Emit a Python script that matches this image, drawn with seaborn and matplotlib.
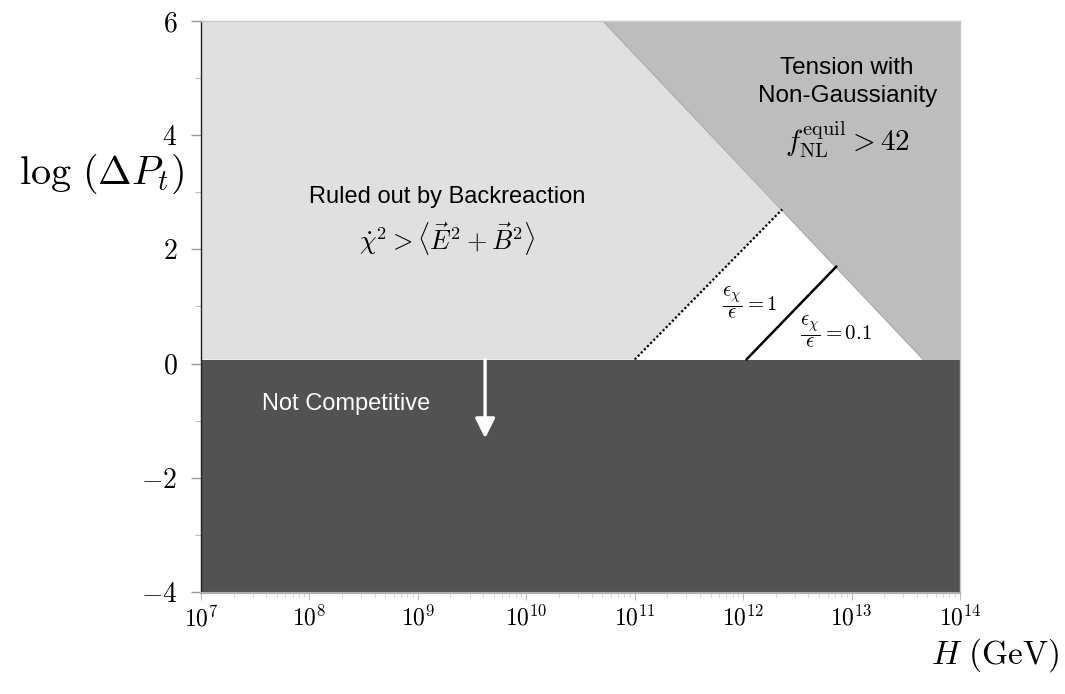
import numpy as np
import matplotlib
matplotlib.use("Agg")
import matplotlib.pyplot as plt
import seaborn as sns
import pandas as pd
from matplotlib.ticker import MultipleLocator, LogLocator

# ---- data (log10 H in GeV, log10 Delta P_t) ----
x_range = [7.0, 14.0]
y_range = [-4.0, 6.0]
floor_logP = 0.07                     # top of "Not Competitive" band
ng_logH = [10.707, 13.66]             # non-Gaussianity boundary
ng_logP = [6.0, 0.07]
eps1_logH = [11.0, 12.36]             # eps_chi/eps = 1 (dotted)
eps1_logP = [0.07, 2.70]
eps01_logH = [12.03, 12.86]           # eps_chi/eps = 0.1 (solid)
eps01_logP = [0.07, 1.70]
arrow_logH = 9.62
arrow_logP = [0.07, -1.31]
x_ticks = [7, 8, 9, 10, 11, 12, 13, 14]
y_ticks = [-4, -2, 0, 2, 4, 6]

sns.set_style("white")
plt.rcParams['font.family'] = ['Liberation Sans', 'DejaVu Sans']
plt.rcParams['mathtext.fontset'] = 'cm'
plt.rcParams['axes.formatter.use_mathtext'] = True
plt.rcParams['text.color'] = 'black'
plt.rcParams['axes.labelcolor'] = 'black'
plt.rcParams['xtick.labelcolor'] = 'black'
plt.rcParams['ytick.labelcolor'] = 'black'

C_LIGHT = '#e0e0e0'
C_MID = '#bdbdbd'
C_DARK = '#525252'

fig = plt.figure(figsize=(10.65, 6.94), dpi=100)
ax = fig.add_axes([201/1065, 1-593/694, 759/1065, 572/694])
ax.set_facecolor('white')

P = lambda v: np.power(10.0, np.asarray(v, dtype=float))

# medium gray: tension with non-Gaussianity
ng_x = list(ng_logH) + [x_range[1]]
ng_y = list(ng_logP) + [floor_logP]
ax.fill_between(P(ng_x), ng_y, y_range[1], color=C_MID, lw=0, zorder=1)
ax.plot(P(ng_logH), ng_logP, color='#a8a8a8', lw=0.8, zorder=1.5)

# light gray: ruled out by backreaction
lx = [x_range[0], eps1_logH[0], eps1_logH[1], ng_logH[0], x_range[0]]
ly = [floor_logP, eps1_logP[0], eps1_logP[1], ng_logP[0], y_range[1]]
ax.fill(P(lx), ly, color=C_LIGHT, lw=0, zorder=1)

# dark: not competitive
ax.fill_between(P(x_range), y_range[0], floor_logP, color=C_DARK, lw=0, zorder=2)

# lines
df1 = pd.DataFrame({'H': P(eps1_logH), 'logP': eps1_logP})
df2 = pd.DataFrame({'H': P(eps01_logH), 'logP': eps01_logP})
sns.lineplot(data=df1, x='H', y='logP', ax=ax, color='black', lw=1.6,
             linestyle=(0, (1, 1)), zorder=3)
sns.lineplot(data=df2, x='H', y='logP', ax=ax, color='black', lw=1.8, zorder=3)

# arrow
ax.annotate('', xy=(P(arrow_logH), arrow_logP[1]), xytext=(P(arrow_logH), arrow_logP[0]),
            arrowprops=dict(arrowstyle='-|>,head_length=0.6,head_width=0.3',
                            mutation_scale=20, color='white', lw=2.4,
                            shrinkA=0, shrinkB=0), zorder=4)

# texts
ax.text(P(9.27), 2.92, 'Ruled out by Backreaction', ha='center', va='center',
        fontsize=17, color='black', zorder=5)
ax.text(P(9.27), 2.17, r'$\dot{\chi}^2 > \langle \vec{E}^2 + \vec{B}^2\rangle$',
        ha='center', va='center', fontsize=19, zorder=5)
ax.text(P(12.96), 4.93, 'Tension with\nNon-Gaussianity', ha='center', va='center',
        fontsize=17.5, linespacing=1.4, color='black', zorder=5)
ax.text(P(12.96), 3.92, r'$f_{\rm NL}^{\rm equil} > 42$', ha='center', va='center',
        fontsize=21, zorder=5)
ax.text(P(12.06), 1.07, r'$\dfrac{\epsilon_\chi}{\epsilon} = 1$', ha='center',
        va='center', fontsize=15, zorder=5)
ax.text(P(12.86), 0.56, r'$\dfrac{\epsilon_\chi}{\epsilon} = 0.1$', ha='center',
        va='center', fontsize=15, zorder=5)
ax.text(P(7.56), -0.71, 'Not Competitive', ha='left', va='center',
        fontsize=17, color='white', zorder=5)

# axes
ax.set_xscale('log')
ax.set_xlim(P(x_range[0]), P(x_range[1]))
ax.set_ylim(y_range[0] - 0.02, y_range[1])
ax.set_xticks(P(x_ticks))
ax.xaxis.set_minor_locator(LogLocator(base=10, subs=np.arange(2, 10), numticks=50))
ax.set_yticks(y_ticks)
ax.yaxis.set_minor_locator(MultipleLocator(1))
ax.set_yticklabels([r'$%d$' % v for v in y_ticks])
ax.set_xticklabels([r'$10^{%d}$' % v for v in x_ticks])

ax.tick_params(axis='y', which='major', direction='out', length=7, width=1,
               color='#999999', labelcolor='black', labelsize=20, pad=10, left=True)
ax.tick_params(axis='y', which='minor', direction='out', length=4, width=0.8,
               color='#bbbbbb', left=True)
ax.tick_params(axis='x', which='major', direction='out', length=5, width=0.8,
               color='#bbbbbb', labelcolor='black', labelsize=17, pad=4, bottom=True)
ax.tick_params(axis='x', which='minor', direction='out', length=3, width=0.6,
               color='#cccccc', bottom=True)

for s in ['top', 'right']:
    ax.spines[s].set_visible(True)
    ax.spines[s].set_color('#c8c8c8')
    ax.spines[s].set_linewidth(1.0)
ax.spines['left'].set_color('#222222')
ax.spines['left'].set_linewidth(1.0)
ax.spines['bottom'].set_color('#b0b0b0')
ax.spines['bottom'].set_linewidth(1.5)

ax.set_ylabel(r'$\log\,(\Delta P_t)$', fontsize=29, rotation=0, ha='center',
              va='center', color='black')
ax.yaxis.set_label_coords(-0.131, 0.733)
ax.set_xlabel(r'$H\ (\mathrm{GeV})$', fontsize=24, ha='center', va='center',
              color='black')
ax.xaxis.set_label_coords(1.046, -0.108)

fig.savefig('out.png', dpi=100)
